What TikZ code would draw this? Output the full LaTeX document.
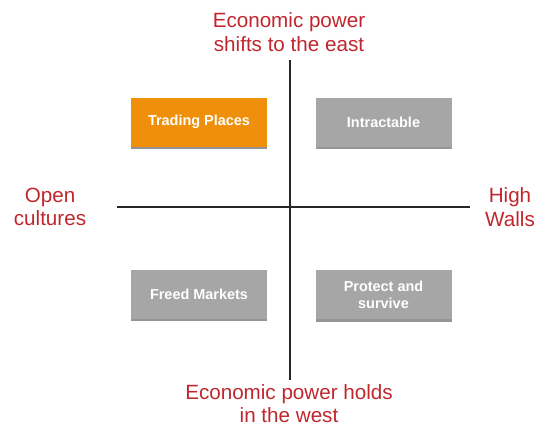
\documentclass[tikz,border=0pt]{standalone}
\usepackage{fontspec}
\setmainfont{Liberation Sans}
\usetikzlibrary{shadows}
\definecolor{axred}{HTML}{C0262D}
\definecolor{boxorange}{HTML}{F0900A}
\definecolor{boxgray}{HTML}{A6A6A6}
\begin{document}
\begin{tikzpicture}[x=1bp,y=-1bp,
  quad/.style={draw=none,minimum width=136bp,minimum height=49bp,inner sep=0pt,
    font=\fontsize{14.5}{17}\selectfont\bfseries,text=white,align=center,
    drop shadow={shadow xshift=0bp,shadow yshift=-2.5bp,fill=black!70,opacity=0.6}},
  axlabel/.style={text=axred,font=\fontsize{20.7}{23.5}\selectfont,align=center,inner sep=0pt},
  axis/.style={draw=black!85,line width=1.8bp}]
\useasboundingbox (0,0) rectangle (540,428);
\coordinate (top) at (290,60);
\coordinate (bot) at (290,380);
\coordinate (lft) at (117,207);
\coordinate (rgt) at (470,207);
\draw[axis] (top) -- (bot);
\draw[axis] (lft) -- (rgt);
\node[quad,fill=boxorange] (tp) at (199,122) {Trading Places};
\node[quad,fill=boxgray] (it) at (383.5,122) {Intractable};
\node[quad,fill=boxgray] (fm) at (199,294) {Freed Markets};
\node[quad,fill=boxgray] (ps) at (383.5,294.5) {Protect and\\survive};
\node[axlabel] (tl) at (289,32) {Economic power\\shifts to the east};
\node[axlabel] (bl) at (289,403.5) {Economic power holds\\in the west};
\node[axlabel] (ll) at (50,207) {Open\\cultures};
\node[axlabel] (rl) at (510,207) {High\\Walls};
\end{tikzpicture}
\end{document}
